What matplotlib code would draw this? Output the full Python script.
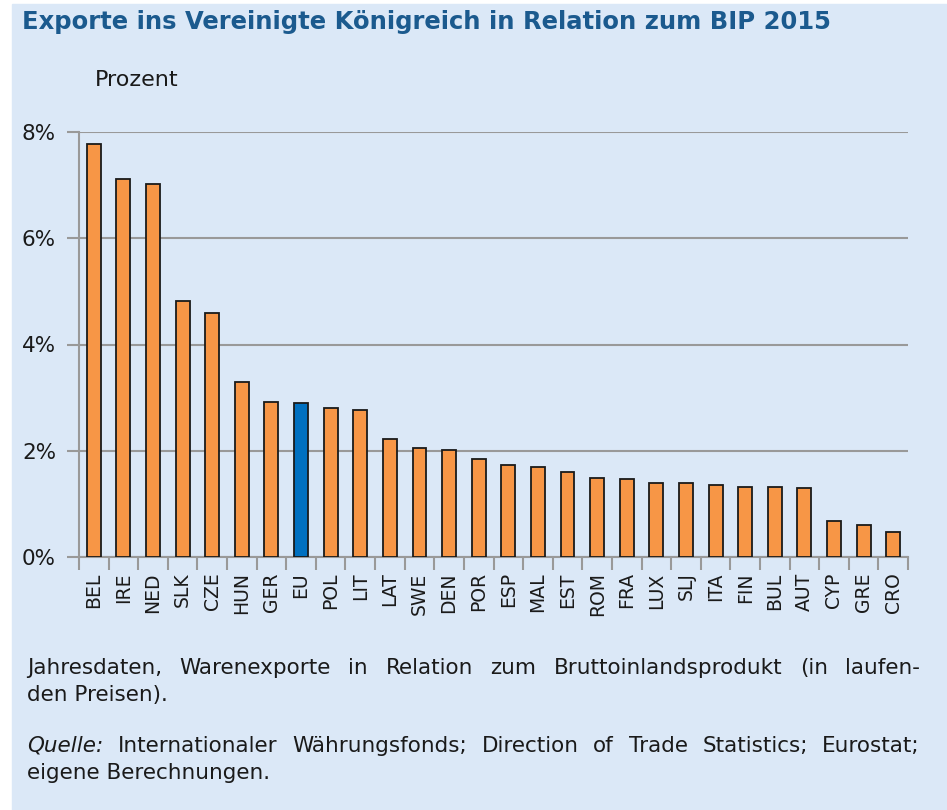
import matplotlib
matplotlib.use("Agg")
import matplotlib.pyplot as plt
from matplotlib.patches import Rectangle
from matplotlib.ticker import FuncFormatter

countries = ["BEL", "IRE", "NED", "SLK", "CZE", "HUN", "GER", "EU", "POL", "LIT",
             "LAT", "SWE", "DEN", "POR", "ESP", "MAL", "EST", "ROM", "FRA", "LUX",
             "SLJ", "ITA", "FIN", "BUL", "AUT", "CYP", "GRE", "CRO"]
values = [7.78, 7.11, 7.02, 4.81, 4.59, 3.29, 2.92, 2.89, 2.80, 2.77,
          2.22, 2.05, 2.02, 1.85, 1.73, 1.69, 1.60, 1.49, 1.47, 1.39,
          1.39, 1.36, 1.32, 1.32, 1.30, 0.68, 0.60, 0.47]
yticks = [0, 2, 4, 6, 8]

title = "Exporte ins Vereinigte Königreich in Relation zum BIP 2015"
note1 = "Jahresdaten, Warenexporte in Relation zum Bruttoinlandsprodukt  (in laufen-"
note2 = "den Preisen)."
src1 = "Internationaler Währungsfonds; Direction of Trade Statistics; Eurostat;"
src2 = "eigene Berechnungen."

plt.rcParams['font.family'] = ['DejaVu Sans']

W, H = 947, 810
fig = plt.figure(figsize=(W / 100, H / 100), dpi=100, facecolor="white")
bg = "#DBE8F7"
fig.patches.append(Rectangle((12 / W, 0), 1 - 12 / W, 1 - 4 / H,
                             transform=fig.transFigure, color=bg, zorder=-10))

ax = fig.add_axes([79 / W, 1 - 557 / H, (908 - 79) / W, (557 - 132) / H])
ax.set_facecolor(bg)

colors = ["#0070C0" if c == "EU" else "#F79646" for c in countries]
x = list(range(len(countries)))
ax.bar(x, values, width=0.47, color=colors, edgecolor="#1a1a1a", linewidth=1.3, zorder=3)

ax.set_xlim(-0.5, len(countries) - 0.5)
ax.set_ylim(0, 8)
ax.set_yticks(yticks)
ax.yaxis.set_major_formatter(FuncFormatter(lambda v, p: f"{v:.0f}%"))
ax.grid(axis="y", color="#999999", linewidth=1.5, zorder=1)
ax.tick_params(axis="y", length=9, color="#999999", width=1.5, labelsize=15.5,
               labelcolor="#1a1a1a", pad=7.5)

ax.set_xticks([i - 0.5 for i in range(len(countries) + 1)])
ax.set_xticklabels([])
ax.set_xticks(x, minor=True)
ax.set_xticklabels(countries, minor=True, rotation=90, fontsize=13.5, color="#1a1a1a")
ax.tick_params(axis="x", which="major", length=9, color="#999999", width=1.5)
ax.tick_params(axis="x", which="minor", length=0, pad=11)

for s in ["top", "right"]:
    ax.spines[s].set_visible(False)
for s in ["left", "bottom"]:
    ax.spines[s].set_color("#999999")
    ax.spines[s].set_linewidth(1.5)

fig.text(22 / W, 1 - 22 / H, title, fontsize=17.5, fontweight="bold",
         color="#1B5A8E", va="center", ha="left")
fig.text(95 / W, 1 - 80 / H, "Prozent", fontsize=16, color="#1a1a1a",
         va="center", ha="left")

fig.canvas.draw()
renderer = fig.canvas.get_renderer()


def justify(line, y, x0=27, x1=920, first=None, **kw):
    items = []
    if first:
        items.append(fig.text(0, 1 - y / H, first, va="center", ha="left",
                              style="italic", **kw))
    for w in line.split():
        items.append(fig.text(0, 1 - y / H, w, va="center", ha="left", **kw))
    widths = [t.get_window_extent(renderer).width for t in items]
    gap = (x1 - x0 - sum(widths)) / (len(items) - 1)
    pos = x0
    for i, t in enumerate(items):
        t.set_x(pos / W)
        pos += widths[i] + gap


fs = 15.5
justify(note1, 668, fontsize=fs, color="#1a1a1a")
fig.text(27 / W, 1 - 695 / H, note2, fontsize=fs, color="#1a1a1a", va="center")
justify(src1, 746, first="Quelle:", fontsize=fs, color="#1a1a1a")
fig.text(27 / W, 1 - 773 / H, src2, fontsize=fs, color="#1a1a1a", va="center")

fig.savefig("out.png", dpi=100, facecolor="white")
